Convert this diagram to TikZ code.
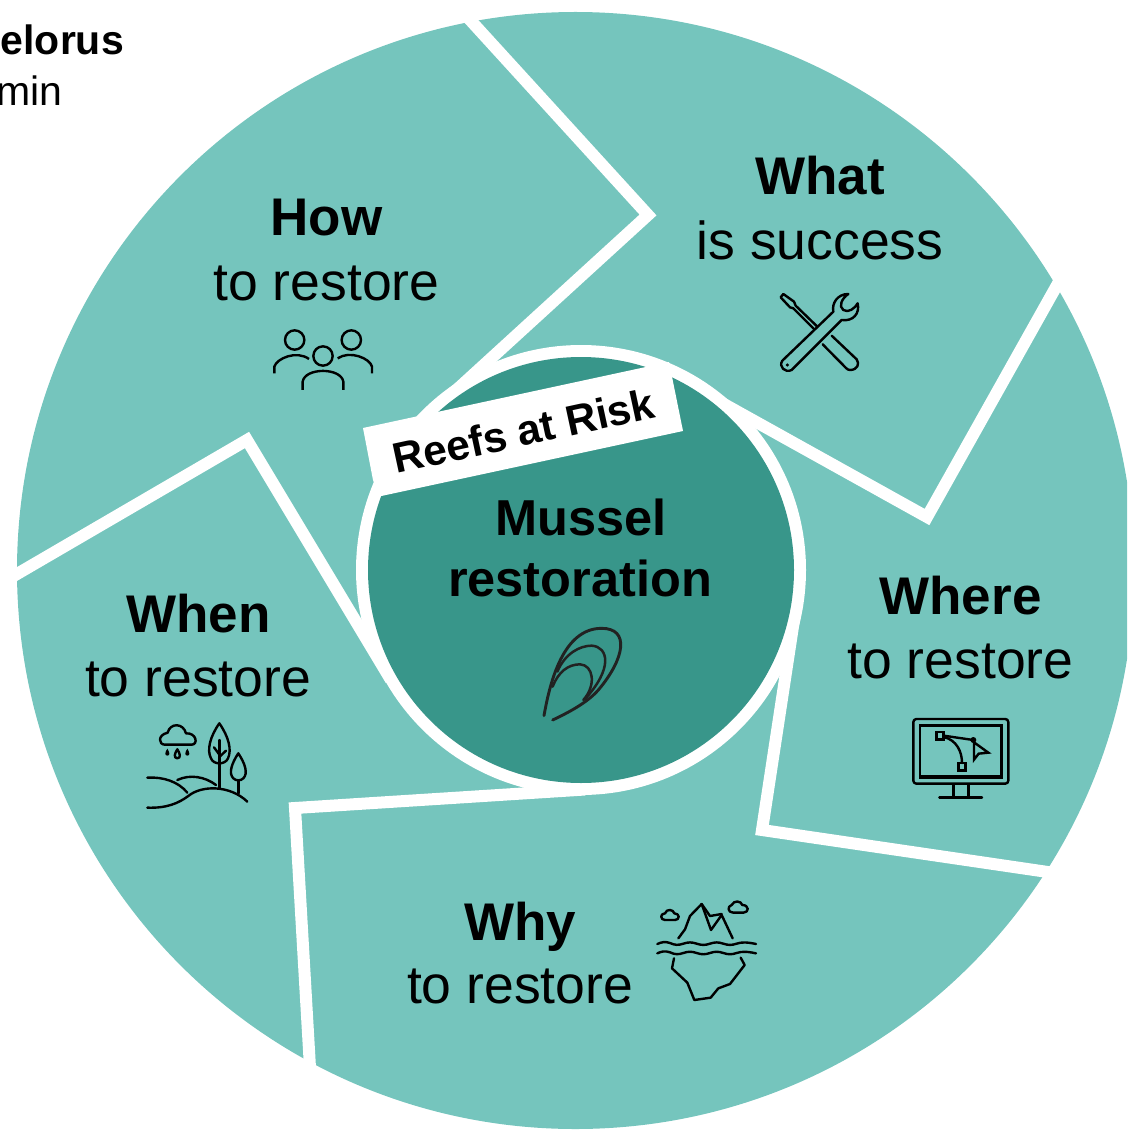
\documentclass[tikz,border=0pt]{standalone}
\usepackage{fontspec}
\setmainfont{Liberation Sans}
\definecolor{teal1}{HTML}{75C5BD}
\definecolor{teal2}{HTML}{38968A}
\definecolor{musselc}{HTML}{222222}
\tikzset{
 divider/.style={draw=white,line width=12pt,miter limit=10,line join=miter},
 icon/.style={draw=black,line width=2.8pt,line cap=round,line join=round,fill=none},
 thin icon/.style={draw=black,line width=2.4pt,line cap=round,line join=round,fill=none},
 big/.style={anchor=base,inner sep=0pt,font=\fontsize{53.5}{60}\selectfont},
 bigb/.style={anchor=base,inner sep=0pt,font=\fontsize{53}{60}\selectfont\bfseries},
 midb/.style={anchor=base,inner sep=0pt,font=\fontsize{50.5}{60}\selectfont\bfseries},
}
\begin{document}
\begin{tikzpicture}[x=1pt,y=-1pt]
\useasboundingbox (0,0) rectangle (1127,1131);
\begin{scope}
\clip (0,0) rectangle (1127,1131);
\fill[teal1] (575.5,570.5) circle[radius=558.5];
% dividers
\draw[divider] (461,10) -- (648,215) -- (440,405);
\draw[divider] (1070,262) -- (927,517) -- (722,403);
\draw[divider] (1075,876) -- (762,830) -- (797,600);
\draw[divider] (311,1085) -- (295,808) -- (585,789.5);
\draw[divider] (5,581) -- (247,440) -- (391,680);
% centre
\fill[white] (581,570) circle[radius=225];
\fill[teal2] (581,570) circle[radius=213];
\fill[white] (363,428) -- (669,362) -- (683,431) -- (379,496.5) -- (373,480) -- cycle;
\end{scope}
\node[rotate=12.2,inner sep=0pt,font=\fontsize{42.5}{50}\selectfont\bfseries] (reefs) at (523.5,430.5) {Reefs at Risk};
% texts
\node[anchor=base east,inner sep=0pt,font=\fontsize{41}{48}\selectfont\bfseries] (t1) at (124,54.5) {elorus};
\node[anchor=base east,inner sep=0pt,font=\fontsize{41}{48}\selectfont] (t2) at (63,105.5) {min};
\node[bigb] (how) at (326.5,235.5) {How};
\node[big] (howb) at (326.5,300) {to restore};
\node[bigb] (what) at (820,195) {What};
\node[big] (whatb) at (820,259.5) {is success};
\node[bigb] (where) at (960.5,614) {Where};
\node[big] (whereb) at (960.5,678) {to restore};
\node[bigb] (when) at (198.5,632) {When};
\node[big] (whenb) at (198,696.5) {to restore};
\node[bigb] (why) at (520.5,940) {Why};
\node[big] (whyb) at (520,1003.5) {to restore};
\node[midb] (m1) at (581,535) {Mussel};
\node[midb] (m2) at (580,596) {restoration};
% tools
\begin{scope}[shift={(750,270)},x=0.3333pt,y=-0.3333pt]
\draw[thin icon] (245,197) -- (320,268) .. controls (330,282) and (322,300) .. (300,300) .. controls (295,300) and (292,298) .. (288,294) -- (218,223);
\draw[thin icon] (193,178) -- (130,115) -- (120,112) -- (92,82) -- (100,72) -- (132,95) -- (137,107) -- (200,168);
\draw[thin icon] (97,272) -- (250,125) .. controls (245,100) and (262,72) .. (295,72) .. controls (275,85) and (265,110) .. (280,120) .. controls (295,130) and (315,115) .. (323,100) .. controls (330,130) and (310,155) .. (275,150) -- (125,300) .. controls (105,310) and (85,290) .. (97,272);
\fill (112,285) circle[radius=5];
\end{scope}
% people
\begin{scope}[shift={(250,310)},x=0.3333pt,y=-0.3333pt]
\draw[thin icon] (134,90) circle[radius=29];
\draw[thin icon] (304,90) circle[radius=29];
\draw[thin icon] (219,138) circle[radius=29];
\draw[thin icon,line cap=butt] (73,190) -- (73,170) .. controls (80,145) and (140,120) .. (177,147);
\draw[thin icon,line cap=butt] (263,145) .. controls (300,120) and (360,145) .. (366,170) -- (366,190);
\draw[thin icon,line cap=butt] (158,240) -- (158,215) .. controls (165,172) and (273,172) .. (280,215) -- (280,240);
\end{scope}
% landscape
\begin{scope}[shift={(130,710)},x=0.3333pt,y=-0.3333pt]
\draw[thin icon] (105,104) .. controls (85,104) and (82,75) .. (113,68) .. controls (120,38) and (160,38) .. (168,70) .. controls (200,68) and (205,104) .. (185,104) -- cycle;
\fill (112,116) .. controls (106,126) and (102,136) .. (112,137) .. controls (122,136) and (118,126) .. (112,116) -- cycle;
\fill (172,116) .. controls (166,126) and (162,136) .. (172,137) .. controls (182,136) and (178,126) .. (172,116) -- cycle;
\draw[thin icon] (142,118) .. controls (134,130) and (130,144) .. (142,145) .. controls (154,144) and (150,130) .. (142,118) -- cycle;
\draw[thin icon] (268,40) .. controls (240,80) and (230,120) .. (243,145) .. controls (250,165) and (286,165) .. (294,145) .. controls (306,120) and (296,80) .. (268,40) -- cycle;
\draw[thin icon] (269,90) -- (269,233);
\draw[thin icon] (252,112) -- (269,135);
\draw[thin icon] (288,122) -- (269,140);
\draw[thin icon] (325,130) .. controls (305,160) and (295,190) .. (310,205) .. controls (318,213) and (332,213) .. (340,205) .. controls (355,190) and (345,160) .. (325,130) -- cycle;
\draw[thin icon] (325,212) -- (325,250);
\draw[thin icon] (52,203) .. controls (100,200) and (145,215) .. (172,248);
\draw[thin icon] (142,210) .. controls (180,192) and (225,200) .. (258,225);
\draw[thin icon] (52,293) .. controls (110,295) and (145,280) .. (175,258) .. controls (215,225) and (300,225) .. (352,275);
\end{scope}
% iceberg
\begin{scope}[shift={(640,890)},x=0.3333pt,y=-0.3333pt]
\draw[thin icon] (75,90) .. controls (60,90) and (60,70) .. (75,70) .. controls (80,55) and (100,58) .. (103,70) .. controls (120,70) and (120,90) .. (105,90) -- cycle;
\draw[thin icon] (280,68) .. controls (262,68) and (262,48) .. (275,45) .. controls (282,30) and (303,32) .. (307,45) .. controls (328,45) and (328,68) .. (310,68) -- cycle;
\draw[thin icon] (115,145) -- (135,118) -- (150,78) -- (185,42) -- (213,120) -- (245,75) -- (278,145);
\draw[thin icon] (185,42) -- (210,78) -- (245,72);
\foreach \yy in {162,190}{
\draw[thin icon] (52,\yy) .. controls (65,\yy-6) and (75,\yy-8) .. (90,\yy-3) .. controls (105,\yy+4) and (115,\yy+4) .. (130,\yy-1) .. controls (145,\yy-6) and (155,\yy-6) .. (170,\yy-1) .. controls (185,\yy+4) and (195,\yy+4) .. (210,\yy-1) .. controls (225,\yy-6) and (235,\yy-6) .. (250,\yy-1) .. controls (265,\yy+4) and (275,\yy+4) .. (290,\yy-1) .. controls (305,\yy-6) and (320,\yy-6) .. (348,\yy);
}
\draw[thin icon] (102,205) -- (96,235) -- (142,278) -- (163,330) -- (212,323) -- (235,295) -- (270,282) -- (314,225) -- (302,203);
\end{scope}
% monitor
\begin{scope}[shift={(900,705)},x=0.3333pt,y=-0.3333pt]
\draw[thin icon,rounded corners=3pt] (40,42) rectangle (325,236);
\draw[thin icon,line cap=butt,line join=miter] (60,62) rectangle (305,217);
\draw[icon,line width=3.2pt,line cap=butt] (58,216) -- (307,216);
\draw[thin icon,line cap=butt] (160,236) -- (160,277);
\draw[thin icon,line cap=butt] (205,236) -- (205,277);
\draw[thin icon] (118,277) -- (246,277);
\draw[thin icon,line join=miter] (109,81) rectangle (131,103);
\draw[thin icon,line join=miter] (175,174) rectangle (197,196);
\draw[thin icon] (131,92) -- (220,105);
\fill (220,105) circle[radius=9];
\draw[thin icon] (131,96) .. controls (170,105) and (186,140) .. (186,174);
\draw[thin icon,line join=miter] (222,112) -- (265,143) -- (236,146) -- (222,164) -- cycle;
\end{scope}
% mussel
\begin{scope}[shift={(530,615)},x=0.3333pt,y=-0.3333pt]
\draw[draw=musselc,line width=2.9pt,line cap=round,line join=round] (42,302) .. controls (60,200) and (100,40) .. (215,40) .. controls (300,40) and (285,130) .. (205,225) .. controls (170,265) and (110,295) .. (68,315);
\draw[draw=musselc,line width=2.5pt,line cap=round] (82,170) .. controls (105,115) and (150,92) .. (185,92) .. controls (235,95) and (250,160) .. (165,252);
\draw[draw=musselc,line width=2.5pt,line cap=round] (68,215) .. controls (85,170) and (115,148) .. (150,148) .. controls (190,150) and (200,210) .. (160,255);
\end{scope}
\end{tikzpicture}
\end{document}
